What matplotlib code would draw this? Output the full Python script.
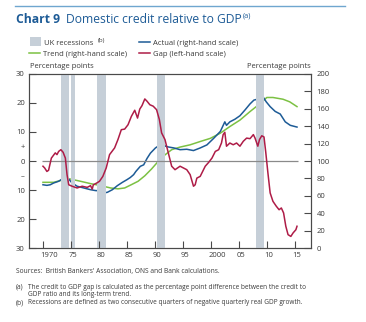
import matplotlib.pyplot as plt
from matplotlib.lines import Line2D
from matplotlib.patches import Rectangle
from matplotlib.transforms import ScaledTranslation

plt.rcParams['font.family'] = ['Open Sans', 'DejaVu Sans']

# 경기침체 구간 (시작, 끝)
recessions = [(1973.3, 1974.6), (1975.0, 1975.7), (1979.7, 1981.3),
              (1990.3, 1991.8), (2008.0, 2009.5)]

# 신용/GDP 갭 (왼쪽 축, %p)
gap_years = [1970.0, 1970.3, 1970.7, 1971.0, 1971.5, 1972.2, 1972.5, 1972.8,
             1973.2, 1973.6, 1974.0, 1974.3, 1974.6, 1975.2, 1976.1, 1977.0,
             1977.9, 1978.5, 1978.8, 1979.0, 1979.6, 1980.1, 1980.7, 1981.3,
             1981.9, 1982.8, 1983.4, 1984.0, 1984.6, 1985.2, 1985.8, 1986.4,
             1986.9, 1987.3, 1987.7, 1988.2, 1988.6, 1989.1, 1989.7, 1990.3,
             1990.8, 1991.2, 1991.8, 1992.4, 1993.0, 1993.6, 1994.5, 1995.7,
             1996.3, 1996.9, 1997.2, 1997.5, 1998.1, 1999.0, 1999.6, 2000.2,
             2000.8, 2001.4, 2001.9, 2002.2, 2002.5, 2002.8, 2003.4, 2004.0,
             2004.6, 2005.2, 2005.8, 2006.4, 2007.0, 2007.6, 2007.9, 2008.4,
             2008.7, 2009.1, 2009.5, 2009.8, 2010.2, 2010.6, 2011.1, 2011.7,
             2012.2, 2012.6, 2013.0, 2013.4, 2013.8, 2014.3, 2014.7, 2015.2,
             2015.4]
gap = [-1.8, -2.4, -3.6, -3.2, 1.0, 2.8, 2.2, 3.3,
       3.9, 3.0, 1.0, -4.7, -8.2, -8.7, -9.3, -8.7,
       -9.1, -8.5, -9.7, -8.2, -7.6, -7.0, -5.3, -2.4,
       2.2, 4.5, 7.4, 10.8, 11.0, 12.5, 15.4, 17.5,
       14.8, 17.9, 19.1, 21.4, 20.6, 19.4, 18.9, 17.7,
       14.3, 9.7, 7.4, 2.8, -1.8, -3.0, -1.8, -3.0,
       -4.7, -8.7, -8.2, -5.9, -5.3, -1.8, -0.5, 1.0,
       3.3, 3.9, 6.2, 9.1, 9.9, 5.1, 6.2, 5.6,
       6.2, 5.1, 6.8, 7.9, 7.7, 9.1, 7.9, 5.1,
       7.4, 8.7, 8.3, 3.3, -4.1, -11.0, -13.9, -15.6,
       -16.8, -16.2, -17.9, -22.5, -25.4, -26.0, -24.8, -23.7,
       -22.5]

# 신용/GDP 비율 실제치 (오른쪽 축, %)
actual_years = [1970.0, 1970.7, 1971.3, 1971.9, 1972.8, 1973.7, 1974.3, 1974.6,
                1975.2, 1976.1, 1977.3, 1978.5, 1979.4, 1980.3, 1980.9, 1981.5,
                1982.4, 1983.3, 1984.2, 1985.0, 1985.6, 1986.2, 1986.6, 1987.4,
                1988.0, 1988.6, 1989.2, 1990.1, 1990.7, 1991.3, 1991.9, 1992.5,
                1993.4, 1994.5, 1995.7, 1996.9, 1998.1, 1999.3, 2000.5, 2001.7,
                2002.5, 2002.8, 2003.4, 2004.3, 2005.2, 2006.1, 2007.0, 2007.7,
                2008.3, 2008.8, 2009.3, 2009.9, 2010.6, 2011.5, 2012.4, 2013.3,
                2014.2, 2015.4]
actual = [72.7, 72.0, 72.7, 74.7, 76.7, 80.4, 81.0, 79.3,
          74.7, 71.0, 69.0, 67.0, 66.0, 65.7, 63.3, 64.0,
          67.0, 71.7, 75.5, 78.5, 81.0, 84.3, 88.0, 93.9,
          95.6, 103.0, 109.0, 115.0, 117.6, 120.0, 117.0, 116.0,
          115.0, 113.0, 113.5, 112.0, 115.0, 118.5, 126.0, 134.0,
          145.0, 141.0, 145.0, 148.0, 152.0, 158.6, 165.6, 170.0,
          171.0, 176.0, 174.0, 168.0, 162.5, 157.0, 154.0, 145.0,
          141.0, 139.0]

# 장기 추세 (오른쪽 축, %)
trend_years = [1970.0, 1971.9, 1973.7, 1974.9, 1976.7, 1978.5, 1980.3, 1982.1,
               1983.4, 1984.6, 1985.8, 1987.0, 1988.2, 1989.4, 1990.6, 1991.8,
               1993.0, 1994.5, 1996.3, 1998.1, 1999.9, 2001.7, 2003.4, 2005.2,
               2007.0, 2008.8, 2010.0, 2011.1, 2012.9, 2014.1, 2015.4]
trend = [75.5, 75.5, 78.5, 79.3, 76.7, 74.0, 71.7, 69.0,
         68.0, 69.0, 72.8, 76.7, 83.0, 90.8, 99.6, 107.0,
         113.0, 116.0, 118.6, 122.4, 126.0, 132.0, 139.6, 147.0,
         156.8, 166.0, 173.0, 173.0, 171.0, 168.0, 162.5]

left_ticks = [-30, -20, -10, -5, 0, 5, 10, 20, 30]
left_labels = ['30', '20', '10', '\u2013', '0', '+', '10', '20', '30']
year_ticks = [1970, 1975, 1980, 1985, 1990, 1995, 2000, 2005, 2010, 2015]
year_labels = ['1970', '75', '80', '85', '90', '95', '2000', '05', '10', '15']

c_blue = '#1d5b96'
c_green = '#7cc143'
c_red = '#ae1c47'
c_rec = '#c6cfd8'
c_text = '#3a3a3a'
c_axis = '#4a4a4a'

fig = plt.figure(figsize=(3.66, 3.22), dpi=100)
ax = fig.add_axes([0.0792, 0.2298, 0.7705, 0.5404])
ax2 = ax.twinx()

for s, e in recessions:
    ax.axvspan(s, e, color=c_rec, lw=0, zorder=0)

ax.hlines(0, 1969.8, 2015.6, color='#8a8a8a', lw=0.9, zorder=1)

ax2.plot(trend_years, trend, color=c_green, lw=1.1, zorder=3)
ax2.plot(actual_years, actual, color=c_blue, lw=1.1, zorder=4)
ax.plot(gap_years, gap, color=c_red, lw=1.1, zorder=5)

ax.set_zorder(ax2.get_zorder() + 1)
ax.patch.set_visible(False)

ax.set_xlim(1967.5, 2017.9)
ax.set_ylim(-30, 30)
ax2.set_ylim(0, 200)

ax.set_yticks(left_ticks)
ax.set_yticklabels(left_labels)
ax.set_xticks(year_ticks)
ax.set_xticklabels(year_labels)
ax2.set_yticks(range(0, 201, 20))

for a in (ax, ax2):
    for sp in a.spines.values():
        sp.set_color(c_axis)
        sp.set_linewidth(0.8)

ax.tick_params(axis='y', direction='in', length=5, width=0.8, color=c_axis,
               labelsize=5.5, labelcolor=c_text, pad=3)
ax.tick_params(axis='x', direction='in', length=5, width=0.8, color=c_axis,
               labelsize=5.5, labelcolor=c_text, pad=3)
ax2.tick_params(axis='y', direction='in', length=5, width=0.8, color=c_axis,
                labelsize=5.5, labelcolor=c_text, pad=4)

# 연도 라벨은 눈금 위치에서 왼쪽 정렬
shift = ScaledTranslation(-2.5 / 100, 0, fig.dpi_scale_trans)
for lab in ax.get_xticklabels():
    lab.set_ha('left')
    lab.set_transform(lab.get_transform() + shift)

# +/- 눈금은 선 없이 라벨만
for t in ax.yaxis.get_major_ticks():
    if abs(t.get_loc()) == 5:
        t.tick1line.set_visible(False)

fig.text(0.082, 0.79, 'Percentage points', fontsize=5.5, color=c_text)
fig.text(0.848, 0.79, 'Percentage points', fontsize=5.5, color=c_text, ha='right')

# 상단 제목과 구분선
fig.add_artist(Line2D([0.041, 0.943], [0.981, 0.981], color='#6fa6cf', lw=1.0))
fig.text(0.043, 0.928, 'Chart 9', fontsize=8.7, fontweight='bold', color=c_blue, va='baseline')
title = fig.text(0.180, 0.928, 'Domestic credit relative to GDP', fontsize=8.7,
                 color=c_blue, va='baseline')
fig.canvas.draw()
tb = title.get_window_extent().transformed(fig.transFigure.inverted())
fig.text(tb.x1 + 0.004, 0.945, '(a)', fontsize=5.2, color=c_blue, va='baseline')

# 범례
fig.add_artist(Rectangle((0.081, 0.857), 0.031, 0.028, color=c_rec, lw=0))
fig.text(0.12, 0.861, 'UK recessions', fontsize=5.5, color=c_text, va='baseline')
fig.text(0.267, 0.871, '(b)', fontsize=4.4, color=c_text, va='baseline')
fig.add_artist(Line2D([0.381, 0.41], [0.869, 0.869], color=c_blue, lw=1.1))
fig.text(0.419, 0.861, 'Actual (right-hand scale)', fontsize=5.5, color=c_text, va='baseline')
fig.add_artist(Line2D([0.08, 0.109], [0.835, 0.835], color=c_green, lw=1.1))
fig.text(0.118, 0.827, 'Trend (right-hand scale)', fontsize=5.5, color=c_text, va='baseline')
fig.add_artist(Line2D([0.381, 0.41], [0.835, 0.835], color=c_red, lw=1.1))
fig.text(0.419, 0.827, 'Gap (left-hand scale)', fontsize=5.5, color=c_text, va='baseline')

# 출처와 주석
fig.text(0.044, 0.151, "Sources:  British Bankers' Association, ONS and Bank calculations.",
         fontsize=4.8, color=c_text, va='baseline')
fig.text(0.044, 0.104, '(a)', fontsize=4.8, color=c_text, va='baseline')
fig.text(0.077, 0.104, 'The credit to GDP gap is calculated as the percentage point difference between the credit to',
         fontsize=4.7, color=c_text, va='baseline')
fig.text(0.077, 0.081, 'GDP ratio and its long-term trend.', fontsize=4.7, color=c_text, va='baseline')
fig.text(0.044, 0.055, '(b)', fontsize=4.8, color=c_text, va='baseline')
fig.text(0.077, 0.055, 'Recessions are defined as two consecutive quarters of negative quarterly real GDP growth.',
         fontsize=4.7, color=c_text, va='baseline')

fig.savefig('out.png', dpi=100)
